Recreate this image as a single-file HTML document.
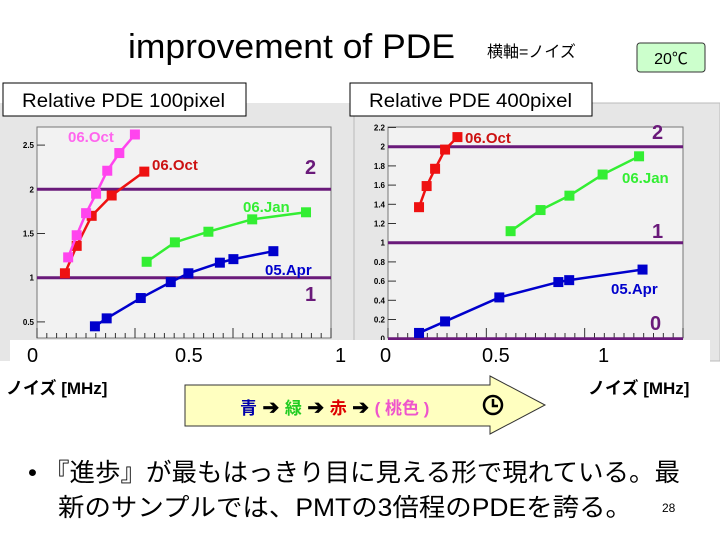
<!DOCTYPE html>
<html><head><meta charset="utf-8"><style>
body{margin:0;width:720px;height:540px;overflow:hidden;background:#fff;font-family:"Liberation Sans","Noto Sans CJK JP",sans-serif;}
</style></head><body>
<svg width="720" height="540" xmlns="http://www.w3.org/2000/svg" font-family="Liberation Sans, Noto Sans CJK JP, sans-serif">
<rect x="0" y="103" width="354" height="258" fill="#e6e6e6"/>
<rect x="354" y="103" width="366" height="258" fill="#e6e6e6" stroke="#bbb"/>
<rect x="37" y="127" width="294" height="211" fill="#f2f2f2" stroke="#777"/>
<rect x="388" y="127" width="295" height="211" fill="#f2f2f2" stroke="#777"/>
<g id="left"></g>
<g id="right"></g>
<rect x="10" y="340" width="700" height="24" fill="#fff"/>
<g font-size="20" fill="#000">
<text x="27" y="362">0</text><text x="175" y="362">0.5</text><text x="335" y="362">1</text>
<text x="380" y="362">0</text><text x="482" y="362">0.5</text><text x="598" y="362">1</text>
</g>
<text x="6" y="394" font-size="17" font-weight="bold">ノイズ [MHz]</text>
<text x="588" y="394" font-size="17" font-weight="bold">ノイズ [MHz]</text>
<text x="128" y="58" font-size="34" textLength="327" lengthAdjust="spacingAndGlyphs">improvement of PDE</text>
<text x="487" y="57" font-size="16">横軸=ノイズ</text>
<rect x="637" y="43" width="68" height="29" rx="3" fill="#ccffcc" stroke="#333"/>
<text x="671" y="64" font-size="16" text-anchor="middle">20℃</text>
<rect x="3" y="83" width="243" height="33" fill="#fff" stroke="#000"/>
<text x="22" y="107" font-size="19" textLength="203" lengthAdjust="spacingAndGlyphs">Relative PDE  100pixel</text>
<rect x="350" y="83" width="242" height="33" fill="#fff" stroke="#000"/>
<text x="369" y="107" font-size="19" textLength="203" lengthAdjust="spacingAndGlyphs">Relative PDE  400pixel</text>
<path d="M185,385 H490 V376 L545,405 L490,434 V426 H185 Z" fill="#ffffc0" stroke="#333"/>
<text x="240" y="414" font-size="17" font-weight="bold"><tspan fill="#0000aa">青</tspan><tspan fill="#000" font-size="20"> ➔ </tspan><tspan fill="#22cc22">緑</tspan><tspan fill="#000" font-size="20"> ➔ </tspan><tspan fill="#dd0000">赤</tspan><tspan fill="#000" font-size="20"> ➔ </tspan><tspan fill="#ee55cc">( 桃色 )</tspan></text>
<g><circle cx="493" cy="405" r="9" fill="none" stroke="#000" stroke-width="2.5"/><path d="M493,399 V406 H498" fill="none" stroke="#000" stroke-width="2.5"/></g>
<text x="28" y="481" font-size="25" textLength="652" lengthAdjust="spacingAndGlyphs">• 『進歩』が最もはっきり目に見える形で現れている。最</text>
<text x="58" y="516" font-size="25" textLength="574" lengthAdjust="spacingAndGlyphs">新のサンプルでは、PMTの3倍程のPDEを誇る。</text>
<text x="662" y="512" font-size="12">28</text>
</svg>
<script>
const NS="http://www.w3.org/2000/svg";
// left chart data
const leftPinkX=[0.106,0.135,0.167,0.201,0.239,0.280,0.333];
const leftPinkY=[1.23,1.48,1.73,1.95,2.21,2.41,2.62];
const leftRedX=[0.095,0.135,0.186,0.254,0.365];
const leftRedY=[1.05,1.36,1.70,1.93,2.20];
const leftGreenX=[0.373,0.469,0.583,0.732,0.915];
const leftGreenY=[1.18,1.40,1.52,1.66,1.74];
const leftBlueX=[0.197,0.237,0.353,0.455,0.515,0.622,0.668,0.804];
const leftBlueY=[0.45,0.54,0.77,0.95,1.05,1.17,1.21,1.30];
const leftTicks=[0.5,1,1.5,2,2.5];
const leftTickLabels=["0.5","1","1.5","2","2.5"];
const leftRefLines=[1,2];
// right chart data
const rightRedX=[0.143,0.178,0.217,0.263,0.320];
const rightRedY=[1.37,1.59,1.77,1.97,2.10];
const rightGreenX=[0.565,0.703,0.836,0.989,1.157];
const rightGreenY=[1.12,1.34,1.49,1.71,1.90];
const rightBlueX=[0.143,0.263,0.513,0.785,0.835,1.173];
const rightBlueY=[0.06,0.18,0.43,0.59,0.61,0.72];
const rightTicks=[0,0.2,0.4,0.6,0.8,1,1.2,1.4,1.6,1.8,2,2.2];
const rightTickLabels=["0","0.2","0.4","0.6","0.8","1","1.2","1.4","1.6","1.8","2","2.2"];
const rightRefLines=[0,1,2];

const lx=v=>37+v*294, ly=v=>277.7-(v-1)*88.4;
const rx=v=>388+v*217, ry=v=>338.7-v*96;

function mk(tag,attrs,parent){const e=document.createElementNS(NS,tag);for(const k in attrs)e.setAttribute(k,attrs[k]);parent.appendChild(e);return e;}

function axis(g,ticks,labels,ysc,x0,x1){
  ticks.forEach((t,i)=>{
    const y=ysc(t);
    const tk=mk('line',{x1:x0,x2:x0+8,y1:y,y2:y,stroke:'#333'},g);
    
    
    const tx=mk('text',{x:x0-3,y:y+3,'font-size':8,'font-weight':'bold','text-anchor':'end'},g);
    tx.textContent=labels[i];
    
    
  });
  for(let i=0;i<=30;i++){const x=x0+(x1-x0)*i/30;
    const t=mk('line',{x1:x,x2:x,y1:338,y2:i%10==0?328:333,stroke:'#333'},g);
    
    }
}
function refs(g,vals,ysc,x0,x1){
  vals.forEach(v=>{
    const l=mk('line',{x1:x0,x2:x1,y1:ysc(v),y2:ysc(v),stroke:'#6a1a7a','stroke-width':3},g);
    
    
  });
}
function series(g,xs,ys,xsc,ysc,color,name){
  const pts=xs.map((x,i)=>xsc(x)+','+ysc(ys[i])).join(' ');
  const pl=mk('polyline',{points:pts,fill:'none',stroke:color,'stroke-width':2.5},g);
  
  
  xs.forEach((x,i)=>{
    const r=mk('rect',{x:xsc(x)-5,y:ysc(ys[i])-5,width:10,height:10,fill:color},g);
    
    
  });
}
function label(g,x,y,txt,color,size){
  const t=mk('text',{x:x,y:y,fill:color,'font-size':size,'font-weight':'bold'},g);
  t.textContent=txt;
  
  
}
const L=document.getElementById('left'), R=document.getElementById('right');
axis(L,leftTicks,leftTickLabels,ly,37,331);
refs(L,leftRefLines,ly,37,331);
series(L,leftBlueX,leftBlueY,lx,ly,'#0000cc','blue-05apr');
series(L,leftGreenX,leftGreenY,lx,ly,'#33ee33','green-06jan');
series(L,leftRedX,leftRedY,lx,ly,'#ee1111','red-06oct');
series(L,leftPinkX,leftPinkY,lx,ly,'#ff44ee','pink-06oct');
label(L,68,142,'06.Oct','#ff66ee',15);
label(L,152,170,'06.Oct','#cc1111',15);
label(L,243,212,'06.Jan','#33ee33',15);
label(L,265,275,'05.Apr','#0000cc',15);
label(L,305,174,'2','#6a1a7a',20);
label(L,305,301,'1','#6a1a7a',20);
axis(R,rightTicks,rightTickLabels,ry,388,683);
refs(R,rightRefLines,ry,388,683);
series(R,rightBlueX,rightBlueY,rx,ry,'#0000cc','blue-05apr');
series(R,rightGreenX,rightGreenY,rx,ry,'#33ee33','green-06jan');
series(R,rightRedX,rightRedY,rx,ry,'#ee1111','red-06oct');
label(R,465,143,'06.Oct','#cc1111',15);
label(R,622,183,'06.Jan','#33ee33',15);
label(R,611,294,'05.Apr','#0000cc',15);
label(R,652,139,'2','#6a1a7a',20);
label(R,652,238,'1','#6a1a7a',20);
label(R,650,330,'0','#6a1a7a',20);
</script>
</body></html>
